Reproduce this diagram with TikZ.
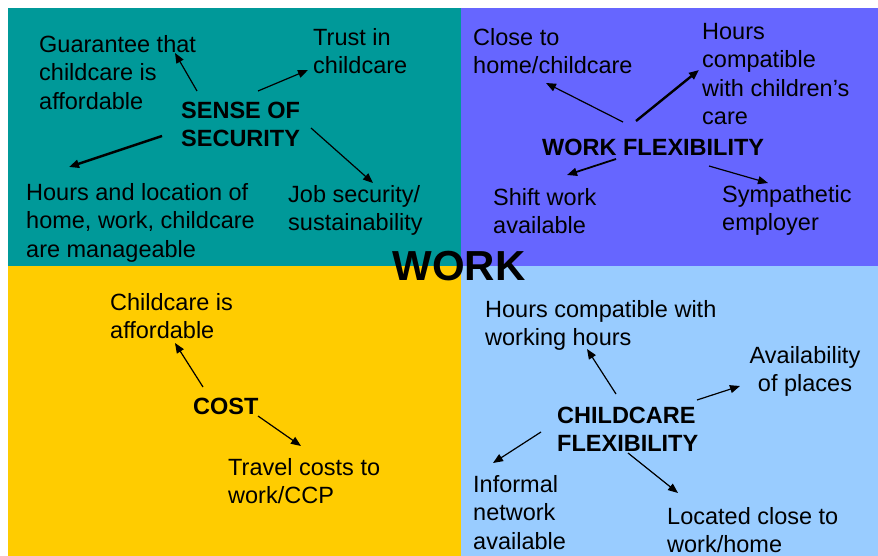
\documentclass[tikz,border=0pt]{standalone}
\usepackage{fontspec}
\setmainfont{Liberation Sans}
\usetikzlibrary{arrows.meta}
\definecolor{qteal}{HTML}{009999}
\definecolor{qviolet}{HTML}{6666FF}
\definecolor{qyellow}{HTML}{FFCC00}
\definecolor{qlight}{HTML}{99CCFF}
\begin{document}
\begin{tikzpicture}[x=1pt,y=-1pt,
  lbl/.style={anchor=north west,inner sep=0pt,align=left,font=\fontsize{23.5}{28.5}\selectfont},
  clbl/.style={anchor=north,inner sep=0pt,align=center,font=\fontsize{23.5}{28.5}\selectfont},
  hub/.style={anchor=north west,inner sep=0pt,align=left,font=\fontsize{23.5}{28}\selectfont\bfseries},
  arr/.style={-{Triangle[length=10pt,width=8pt]},line width=1.2pt},
  thickarr/.style={arr,line width=2.4pt}]
\useasboundingbox (0,0) rectangle (878,556);
\fill[white] (0,0) rectangle (878,556);
% quadrants
\fill[qteal]   (8,8)    rectangle (461,266);
\fill[qviolet] (461,8)  rectangle (878,266);
\fill[qyellow] (8,266)  rectangle (461,556);
\fill[qlight]  (461,266) rectangle (878,556);

% centre title
\node[anchor=north,inner sep=0pt,font=\fontsize{42}{46}\selectfont\bfseries] (work) at (459,251) {WORK};

% Sense of security
\node[hub] (sec) at (181,102) {SENSE OF\\SECURITY};
\node[lbl] (guar) at (39,35) {Guarantee that\\childcare is\\affordable};
\node[lbl] (trust) at (313,28) {Trust in\\childcare};
\node[lbl] (hrsloc) at (26,183) {Hours and location of\\home, work, childcare\\are manageable};
\node[lbl] (job) at (288,185) {Job security/\\sustainability};
\coordinate (s1a) at (197,91);  \coordinate (s1b) at (175,53);
\coordinate (s2a) at (258,91);  \coordinate (s2b) at (308,70);
\coordinate (s3a) at (162,136); \coordinate (s3b) at (69,167);
\coordinate (s4a) at (311,128); \coordinate (s4b) at (373,183);
\draw[arr] (s1a) -- (s1b);
\draw[arr] (s2a) -- (s2b);
\draw[thickarr] (s3a) -- (s3b);
\draw[arr] (s4a) -- (s4b);

% Work flexibility
\node[hub] (wflex) at (542,139) {WORK FLEXIBILITY};
\node[lbl] (close) at (473,28) {Close to\\home/childcare};
\node[lbl] (hcomp) at (702,23) {Hours\\compatible\\with children’s\\care};
\node[lbl] (shift) at (493,188) {Shift work\\available};
\node[lbl] (symp) at (722,185) {Sympathetic\\employer};
\coordinate (w1a) at (623,122); \coordinate (w1b) at (546,83);
\coordinate (w2a) at (636,121); \coordinate (w2b) at (699,70);
\coordinate (w3a) at (616,159); \coordinate (w3b) at (567,175);
\coordinate (w4a) at (709,166); \coordinate (w4b) at (768,183);
\draw[arr] (w1a) -- (w1b);
\draw[thickarr] (w2a) -- (w2b);
\draw[arr,line width=1.8pt] (w3a) -- (w3b);
\draw[arr] (w4a) -- (w4b);

% Cost
\node[hub] (cost) at (193,398) {COST};
\node[lbl] (afford) at (110,293) {Childcare is\\affordable};
\node[lbl] (travel) at (228,458) {Travel costs to\\work/CCP};
\coordinate (c1a) at (203,387); \coordinate (c1b) at (175,343);
\coordinate (c2a) at (258,416); \coordinate (c2b) at (301,446);
\draw[arr] (c1a) -- (c1b);
\draw[arr] (c2a) -- (c2b);

% Childcare flexibility
\node[hub] (cflex) at (557,407) {CHILDCARE\\FLEXIBILITY};
\node[lbl] (hwork) at (485,300) {Hours compatible with\\working hours};
\node[clbl] (avail) at (805,346) {Availability\\of places};
\node[lbl] (inform) at (473,475) {Informal\\network\\available};
\node[lbl] (locat) at (667,507) {Located close to\\work/home};
\coordinate (f1a) at (616,394); \coordinate (f1b) at (587,349);
\coordinate (f2a) at (697,400); \coordinate (f2b) at (740,386);
\coordinate (f3a) at (541,432); \coordinate (f3b) at (493,463);
\coordinate (f4a) at (628,453); \coordinate (f4b) at (678,493);
\draw[arr] (f1a) -- (f1b);
\draw[arr] (f2a) -- (f2b);
\draw[arr] (f3a) -- (f3b);
\draw[arr] (f4a) -- (f4b);
\end{tikzpicture}
\end{document}
